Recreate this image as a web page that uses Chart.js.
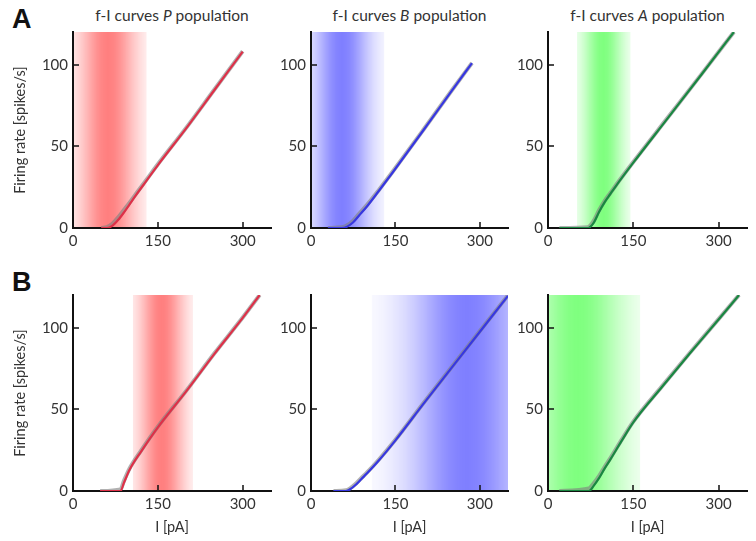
<!DOCTYPE html>
<html>
<head>
<meta charset="utf-8">
<script src="https://cdn.jsdelivr.net/npm/chart.js@4.4.0/dist/chart.umd.min.js"></script>
<style>
  body { margin: 0; background: #fff; }
  #wrap { position: relative; width: 756px; height: 541px; overflow: hidden; font-family: Lato, sans-serif; }
  #wrap canvas { position: absolute; }
  .letter { position: absolute; font: bold 27px "Liberation Sans", Arial, sans-serif; line-height: 27px; color: #111; }
  .title { position: absolute; width: 240px; text-align: center; font-size: 15.5px; line-height: 18px; color: #333; }
</style>
</head>
<body>
<div id="wrap"></div>
<script>
// axis ticks
const xTicks = [0, 150, 300];
const yTicks = [0, 50, 100];
const xMax = 350, yMax = 120;

// row A : f-I curves (current in pA, rate in spikes/s)
const aP_I     = [50, 60, 70, 80, 90, 100, 110, 130, 150, 200, 250, 300];
const aP_rate  = [0, 0, 1.5, 5, 9.5, 14.5, 19.5, 29, 38.5, 61, 84.5, 108];
const aP_gray  = [0, 0.5, 2.8, 6.5, 11, 15.5, 20.3, 29.6, 39, 61.3, 84.8, 108.2];

const aB_I     = [30, 55, 65, 75, 85, 100, 120, 145, 200, 250, 286];
const aB_rate  = [0, 0, 1, 3.5, 7.5, 13.5, 22.5, 34, 60, 84, 101];
const aB_gray  = [0, 0.4, 1.8, 4.5, 8.5, 14.3, 23, 34.4, 60.3, 84.2, 101];

const aA_I     = [20, 70, 80, 90, 100, 110, 120, 150, 210, 270, 327];
const aA_rate  = [0, 0, 3, 10, 16, 21, 26, 40, 67, 94, 120];
const aA_gray  = [0, 0.5, 4.2, 11, 16.8, 21.6, 26.5, 40.4, 67.3, 94.2, 120];

// row B
const bP_I     = [48, 84, 90, 100, 120, 150, 200, 250, 300, 330];
const bP_rate  = [0, 0, 5, 13, 24, 39, 61, 84, 106, 120];
const bP_gray  = [0, 1, 6.2, 13.8, 24.6, 39.4, 61.3, 84.3, 106.2, 120];

const bB_I     = [40, 62, 70, 80, 90, 100, 120, 150, 200, 250, 300, 350];
const bB_rate  = [0, 0, 1.2, 4, 7.5, 11, 18.5, 31, 53.5, 75.5, 97.5, 119.5];
const bB_gray  = [0, 0.4, 1.8, 4.6, 8.1, 11.5, 19, 31.4, 53.9, 75.9, 97.9, 119.8];

const bA_I     = [20, 72, 80, 90, 100, 110, 130, 150, 200, 250, 300, 336];
const bA_rate  = [0, 0, 3, 8, 14, 19.5, 31, 42, 63.5, 84.5, 105, 120];
const bA_gray  = [0, 1.5, 4.6, 9.3, 15, 20.3, 31.6, 42.5, 63.9, 84.8, 105.2, 120];

// input-current distributions (shaded bands): low end, peak, high end, spread
const bandLo    = [0, 0, 51, 106, 108, 0];
const bandPeak  = [62, 55, 97, 157, 277, 53];
const bandHi    = [130, 130, 145, 212, 350, 162];
const bandWidth = [35, 35, 25, 28, 70, 55];

const populations = ["P", "B", "A", "P", "B", "A"];

// layout (pixels)
const colLeft  = [73, 311, 548];
const colWidth = [198, 197, 199];
const rowTop   = [28, 291];
const plotH    = 200;
const leftPad = 70, topPad = 10, rightPad = 8, bottomPad = 50;

const popColor = {
  P: { line: "rgb(222,48,72)",  band: "255,0,0" },
  B: { line: "rgb(55,55,225)",  band: "0,0,255" },
  A: { line: "rgb(25,135,65)",  band: "0,255,0" }
};

const curves = [
  [aP_I, aP_rate, aP_gray], [aB_I, aB_rate, aB_gray], [aA_I, aA_rate, aA_gray],
  [bP_I, bP_rate, bP_gray], [bB_I, bB_rate, bB_gray], [bA_I, bA_rate, bA_gray]
];

const tickFont  = { family: "Lato, sans-serif", size: 15 };
const labelFont = { family: "Lato, sans-serif", size: 14.5 };

// shaded band behind the curves, drawn before the axes
const bandPlugin = {
  id: "band",
  beforeDraw(chart, args, opts) {
    const { ctx, scales: { x, y } } = chart;
    const lo = x.getPixelForValue(opts.lo), hi = x.getPixelForValue(opts.hi);
    const grad = ctx.createLinearGradient(lo, 0, hi, 0);
    for (let i = 0; i <= 40; i++) {
      const v = opts.lo + (opts.hi - opts.lo) * i / 40;
      const a = 0.5 * Math.exp(-0.5 * Math.pow((v - opts.peak) / opts.spread, 2));
      grad.addColorStop(i / 40, `rgba(${opts.rgb},${a.toFixed(3)})`);
    }
    const top = y.getPixelForValue(yMax), bottom = y.getPixelForValue(0);
    ctx.save();
    ctx.fillStyle = grad;
    ctx.fillRect(lo, top, hi - lo, bottom - top);
    ctx.restore();
  }
};

// ticks point inward
const inTicks = {
  id: "inTicks",
  afterDatasetsDraw(chart) {
    const { ctx, chartArea, scales: { x, y } } = chart;
    ctx.save();
    ctx.strokeStyle = "#111";
    ctx.lineWidth = 1.5;
    ctx.beginPath();
    xTicks.forEach(v => {
      if (!v) return;
      const px = Math.round(x.getPixelForValue(v));
      ctx.moveTo(px, chartArea.bottom);
      ctx.lineTo(px, chartArea.bottom - 6);
    });
    yTicks.forEach(v => {
      if (!v) return;
      const py = Math.round(y.getPixelForValue(v));
      ctx.moveTo(chartArea.left, py);
      ctx.lineTo(chartArea.left + 6, py);
    });
    ctx.stroke();
    ctx.restore();
  }
};

const wrap = document.getElementById("wrap");

["A", "B"].forEach((l, r) => {
  const d = document.createElement("div");
  d.className = "letter";
  d.textContent = l;
  d.style.left = "12px";
  d.style.top = (r === 0 ? 6 : 269) + "px";
  wrap.appendChild(d);
});

for (let i = 0; i < 6; i++) {
  const row = Math.floor(i / 3), col = i % 3;
  const pop = populations[i];
  const [I, rate, gray] = curves[i];

  if (row === 0) {
    const t = document.createElement("div");
    t.className = "title";
    t.innerHTML = `f-I curves <i>${pop}</i> population`;
    t.style.left = (colLeft[col] + colWidth[col] / 2 - 120) + "px";
    t.style.top = "6px";
    wrap.appendChild(t);
  }

  const canvas = document.createElement("canvas");
  const w = leftPad + colWidth[col] + rightPad, h = topPad + plotH + bottomPad;
  canvas.width = w; canvas.height = h;
  canvas.style.left = (colLeft[col] - leftPad) + "px";
  canvas.style.top = (rowTop[row] - topPad) + "px";
  wrap.appendChild(canvas);

  new Chart(canvas, {
    type: "scatter",
    data: {
      datasets: [
        // first dataset is painted last, so the coloured curve sits on the grey one
        {
          data: I.map((v, k) => ({ x: v, y: rate[k] })),
          showLine: true, pointRadius: 0,
          borderColor: popColor[pop].line, borderWidth: 2.2,
          cubicInterpolationMode: "monotone"
        },
        {
          data: I.map((v, k) => ({ x: v, y: gray[k] })),
          showLine: true, pointRadius: 0,
          borderColor: "rgba(125,125,125,0.6)", borderWidth: 4,
          cubicInterpolationMode: "monotone"
        }
      ]
    },
    options: {
      responsive: false,
      animation: false,
      layout: { padding: { top: topPad, right: rightPad, left: 0, bottom: 0 } },
      plugins: {
        legend: { display: false },
        tooltip: { enabled: false },
        band: { lo: bandLo[i], hi: bandHi[i], peak: bandPeak[i], spread: bandWidth[i], rgb: popColor[pop].band }
      },
      scales: {
        x: {
          type: "linear", min: 0, max: xMax,
          afterBuildTicks: s => { s.ticks = xTicks.map(v => ({ value: v })); },
          afterFit: s => { s.height = bottomPad; },
          ticks: { font: tickFont, color: "#333", padding: 4, maxRotation: 0, autoSkip: false },
          grid: { drawOnChartArea: false, drawTicks: false },
          border: { color: "#111", width: 2 },
          title: { display: row === 1, text: "I [pA]", font: labelFont, color: "#333", padding: { top: 0, bottom: 5 } }
        },
        y: {
          type: "linear", min: 0, max: yMax,
          afterBuildTicks: s => { s.ticks = yTicks.map(v => ({ value: v })); },
          afterFit: s => { s.width = leftPad; },
          ticks: { font: tickFont, color: "#333", padding: 5 },
          grid: { drawOnChartArea: false, drawTicks: false },
          border: { color: "#111", width: 2 },
          title: { display: col === 0, text: "Firing rate [spikes/s]", font: labelFont, color: "#333", padding: { top: 9, bottom: 0 } }
        }
      }
    },
    plugins: [bandPlugin, inTicks]
  });
}
</script>
</body>
</html>
